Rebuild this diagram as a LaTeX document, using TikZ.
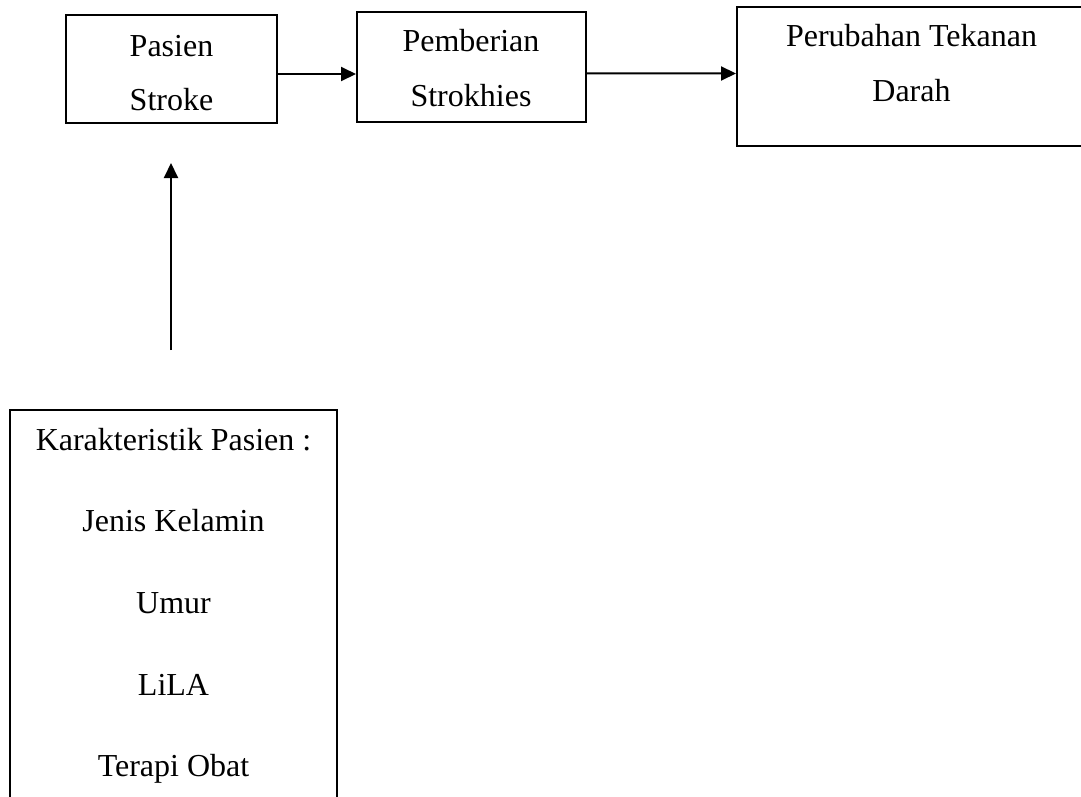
\documentclass[tikz,border=0pt]{standalone}
\usepackage{fontspec}
\setmainfont{Liberation Serif}
\usetikzlibrary{arrows.meta}
\begin{document}
\begin{tikzpicture}[x=1pt,y=-1pt,
  box/.style={draw, line width=2pt, inner sep=0pt, rectangle},
  lbl/.style={font=\fontsize{32}{38}\selectfont, anchor=base, inner sep=0pt},
  arr/.style={line width=2pt, -{Triangle[length=15pt,width=14pt]}}]
\useasboundingbox (0,0) rectangle (1081,796);
\clip (0,0) rectangle (1081,796);
% boxes
\node[box, minimum width=211pt, minimum height=108pt] (b1) at (171.5,69.2) {};
\node[box, minimum width=229pt, minimum height=110pt] (b2) at (471.5,67.3) {};
\node[box, minimum width=350pt, minimum height=138.4pt] (b3) at (912,76.5) {};
\node[box, minimum width=326.7pt, minimum height=430pt] (b4) at (173.4,625) {};
% texts
\node[lbl] (t1a) at (171.5,56) {Pasien};
\node[lbl] (t1b) at (171.5,110) {Stroke};
\node[lbl] (t2a) at (471,51.7) {Pemberian};
\node[lbl] (t2b) at (471,106.7) {Strokhies};
\node[lbl] (t3a) at (911.5,46.7) {Perubahan Tekanan};
\node[lbl] (t3b) at (911.5,101) {Darah};
\node[lbl] (t4a) at (173.5,450) {Karakteristik Pasien :};
\node[lbl] (t4b) at (173.5,531.7) {Jenis Kelamin};
\node[lbl] (t4c) at (173.5,613) {Umur};
\node[lbl] (t4d) at (173.5,695) {LiLA};
\node[lbl] (t4e) at (173.5,776.7) {Terapi Obat};
% connectors
\draw[arr] ([yshift=-4.8pt]b1.east) -- ([yshift=-6.7pt]b2.west);
\draw[arr] ([yshift=-6pt]b2.east) -- ([yshift=3pt]b3.west);
\coordinate (vs) at (171,350);
\coordinate (ve) at (171,163);
\draw[arr] (vs) -- (ve);
\end{tikzpicture}
\end{document}
